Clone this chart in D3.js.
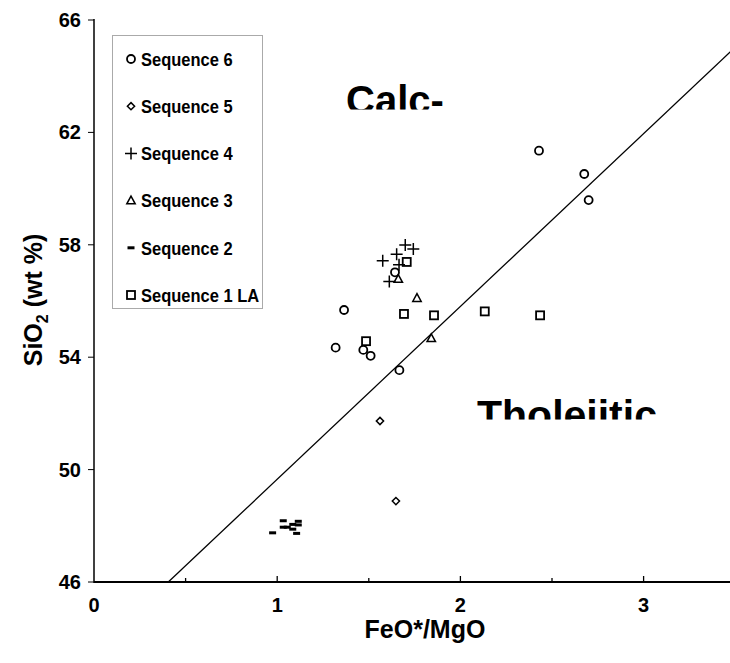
<!DOCTYPE html>
<html><head><meta charset="utf-8">
<script src="https://cdn.jsdelivr.net/npm/d3@7"></script>
<style>body{margin:0;background:#fff}svg{display:block}text{font-family:"Liberation Sans",Arial,sans-serif;font-weight:bold}</style>
</head><body>
<script>
const seq6 = [[2.429,61.35],[2.676,60.52],[2.700,59.59],[1.365,55.68],[1.319,54.34],[1.470,54.26],[1.510,54.05],[1.667,53.54],[1.643,57.02]];
const seq5 = [[1.561,51.73],[1.648,48.88]];
const seq4 = [[1.576,57.43],[1.652,57.66],[1.699,57.99],[1.743,57.85],[1.665,57.29],[1.612,56.69]];
const seq3 = [[1.661,56.78],[1.763,56.10],[1.841,54.67]];
const seq2 = [[0.975,47.75],[1.033,48.18],[1.033,47.95],[1.055,47.95],[1.085,48.05],[1.115,48.16],[1.115,48.03],[1.085,47.88],[1.106,47.73]];
const seq1 = [[1.707,57.39],[1.692,55.54],[1.856,55.49],[1.485,54.57],[2.133,55.63],[2.435,55.49]];
const divider = [[0.4056,46],[3.5,65.03]];
const xTicks = [0,1,2,3];
const xMinor = [0.5,1.5,2.5];
const yTicks = [46,50,54,58,62,66];
const legendNames = ["Sequence 6","Sequence 5","Sequence 4","Sequence 3","Sequence 2","Sequence 1 LA"];

const W=730,H=663;
const svg=d3.select("body").append("svg").attr("width",W).attr("height",H);
const x=d3.scaleLinear().domain([0,3.5]).range([94,735.2]);
const y=d3.scaleLinear().domain([46,66]).range([582,20]);

svg.append("clipPath").attr("id","plot").append("rect").attr("x",94).attr("y",0).attr("width",W-94).attr("height",582);

// axes
const gx=svg.append("g").attr("transform","translate(0,582)");
gx.append("line").attr("x1",94).attr("x2",W).attr("stroke","#000").attr("stroke-width",2);
gx.selectAll(".maj").data(xTicks.slice(1)).join("line").attr("x1",d=>x(d)).attr("x2",d=>x(d)).attr("y1",0).attr("y2",-6).attr("stroke","#000").attr("stroke-width",1.3);
gx.selectAll(".min").data(xMinor).join("line").attr("x1",d=>x(d)).attr("x2",d=>x(d)).attr("y1",0).attr("y2",-4).attr("stroke","#000").attr("stroke-width",1.3);
gx.selectAll("text").data(xTicks).join("text").attr("x",d=>x(d)).attr("y",30).attr("text-anchor","middle").attr("font-size",20).text(d=>d);

const gy=svg.append("g");
gy.append("line").attr("x1",94).attr("x2",94).attr("y1",19).attr("y2",583).attr("stroke","#000").attr("stroke-width",1.5);
gy.selectAll("line.t").data(yTicks).join("line").attr("class","t").attr("x1",88).attr("x2",94).attr("y1",d=>y(d)).attr("y2",d=>y(d)).attr("stroke","#000").attr("stroke-width",1);
gy.selectAll("text").data(yTicks).join("text").attr("x",81).attr("y",d=>y(d)+7).attr("text-anchor","end").attr("font-size",20).text(d=>d);

svg.append("text").attr("x",425).attr("y",638).attr("text-anchor","middle").attr("font-size",25).text("FeO*/MgO");
const yt=svg.append("text").attr("transform","translate(42,300) rotate(-90)").attr("text-anchor","middle").attr("font-size",25);
yt.append("tspan").text("SiO");
yt.append("tspan").attr("font-size",16).attr("dy",6).text("2");
yt.append("tspan").attr("dy",-6).text(" (wt %)");

// divider line
svg.append("line").attr("clip-path","url(#plot)").attr("x1",x(divider[0][0])).attr("y1",y(divider[0][1])).attr("x2",x(divider[1][0])).attr("y2",y(divider[1][1])).attr("stroke","#000").attr("stroke-width",1.3);

// field labels (clipped)
svg.append("clipPath").attr("id","c1").append("rect").attr("x",340).attr("y",60).attr("width",115).attr("height",49.5);
svg.append("text").attr("clip-path","url(#c1)").attr("x",346).attr("y",114).attr("font-size",40).text("Calc-");
svg.append("clipPath").attr("id","c2").append("rect").attr("x",470).attr("y",380).attr("width",192).attr("height",39.5);
svg.append("text").attr("clip-path","url(#c2)").attr("x",477).attr("y",429).attr("font-size",41).text("Tholeiitic");

function drawMarker(g,type,cx,cy){
  const s=g.append("g").attr("transform",`translate(${cx},${cy})`);
  const st={fill:"none",stroke:"#000","stroke-width":1.8};
  const ap=(e)=>{for(const k in st)e.attr(k,st[k]);return e;};
  if(type==="circle") ap(s.append("circle").attr("r",4));
  else if(type==="diamond") ap(s.append("path").attr("d","M0,-3.6L3.6,0L0,3.6L-3.6,0Z")).attr("stroke-width",1.5);
  else if(type==="plus") s.append("path").attr("d","M-6,0H6M0,-6V6").attr("stroke","#000").attr("stroke-width",1.5);
  else if(type==="triangle") ap(s.append("path").attr("d","M0,-4.5L4.2,3.2L-4.2,3.2Z")).attr("stroke-width",1.5);
  else if(type==="dash") s.append("rect").attr("x",-3.5).attr("y",-1.5).attr("width",7).attr("height",3).attr("fill","#000");
  else if(type==="square") ap(s.append("rect").attr("x",-4).attr("y",-4).attr("width",8).attr("height",8));
}
const series=[[seq6,"circle"],[seq5,"diamond"],[seq4,"plus"],[seq3,"triangle"],[seq2,"dash"],[seq1,"square"]];
const gm=svg.append("g");
series.forEach(([data,type])=>data.forEach(d=>drawMarker(gm,type,x(d[0]),y(d[1]))));

// legend
const lg=svg.append("g");
lg.append("rect").attr("x",112.5).attr("y",35.5).attr("width",150).attr("height",273).attr("fill","#fff").attr("stroke","#aaa").attr("stroke-width",1);
legendNames.forEach((n,i)=>{
  const cy=59+i*47.2;
  drawMarker(lg,series[i][1],131,cy);
  lg.append("text").attr("x",141).attr("y",cy+6).attr("font-size",16.5).attr("transform",`translate(0,${cy}) scale(1,1.15) translate(0,${-cy})`).text(n);
});
</script>
</body></html>
